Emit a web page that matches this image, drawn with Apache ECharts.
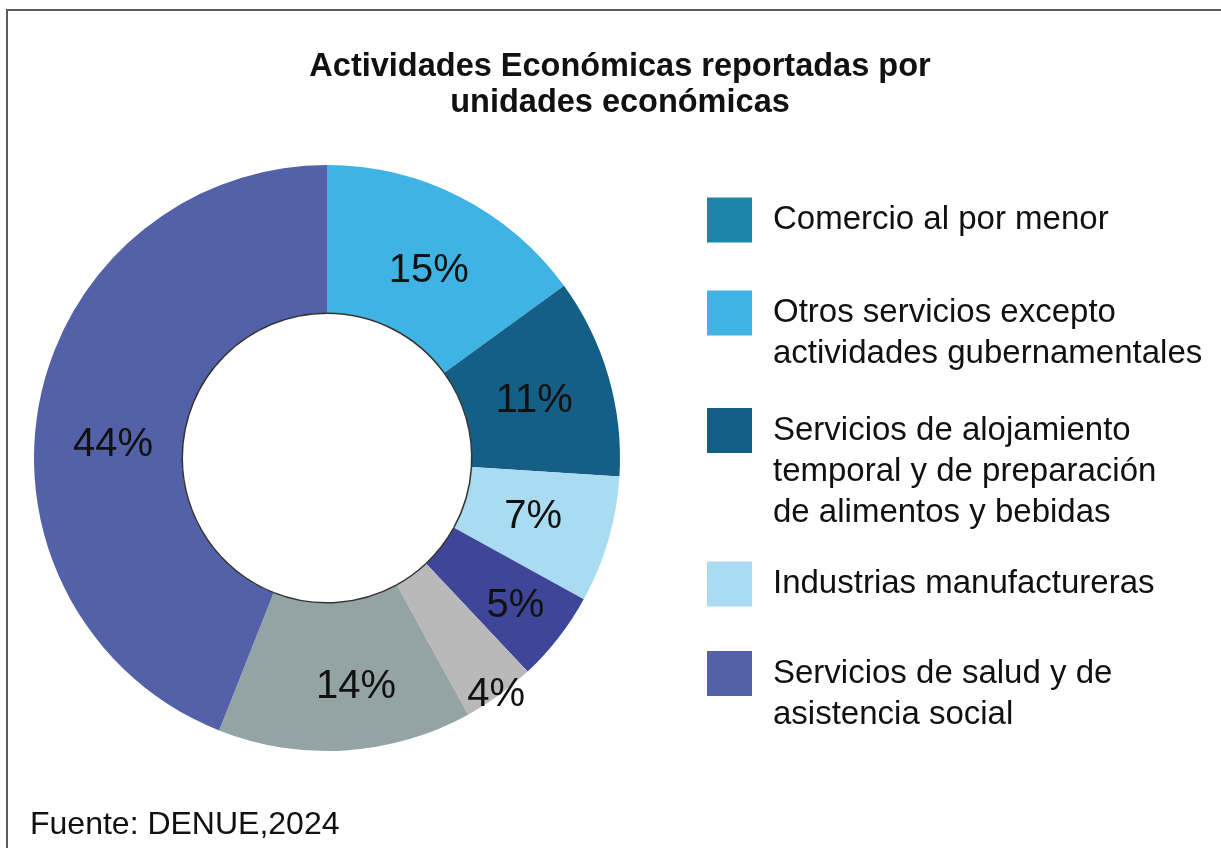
<!DOCTYPE html>
<html>
<head>
<meta charset="utf-8">
<script src="https://cdn.jsdelivr.net/npm/echarts@6/dist/echarts.min.js"></script>
<style>
  html, body { margin: 0; padding: 0; background: #fff; }
  #chart { width: 1221px; height: 848px; }
</style>
</head>
<body>
<div id="chart"></div>
<script>
// ── data ────────────────────────────────────────────────────────────────
const TITLE  = 'Actividades Económicas reportadas por\nunidades económicas';
const SOURCE = 'Fuente: DENUE,2024';

// slices, clockwise from 12 o'clock (Comercio has no visible slice)
const SLICE_NAMES = [
  'Comercio al por menor',
  'Otros servicios excepto actividades gubernamentales',
  'Servicios de alojamiento temporal y de preparación de alimentos y bebidas',
  'Industrias manufactureras',
  'Otra actividad 1',
  'Otra actividad 2',
  'Otra actividad 3',
  'Servicios de salud y de asistencia social',
];
const SLICE_VALUES = [0, 15, 11, 7, 5, 4, 14, 44];
const SLICE_COLORS = [
  '#1C86A8', '#3EB3E4', '#155F86', '#A9DCF1',
  '#3F4699', '#B9B9B9', '#94A3A3', '#5361A9',
];

const LEGEND_NAMES = [
  'Comercio al por menor',
  'Otros servicios excepto actividades gubernamentales',
  'Servicios de alojamiento temporal y de preparación de alimentos y bebidas',
  'Industrias manufactureras',
  'Servicios de salud y de asistencia social',
];
const LEGEND_LABELS = [
  'Comercio al por menor',
  'Otros servicios excepto\nactividades gubernamentales',
  'Servicios de alojamiento\ntemporal y de preparación\nde alimentos y bebidas',
  'Industrias manufactureras',
  'Servicios de salud y de\nasistencia social',
];

// ── layout / style ──────────────────────────────────────────────────────
const FONT   = "'Liberation Sans', Arial, Helvetica, sans-serif";
const INK    = '#111111';
const CENTER = [327, 458];
const LEGEND_ICON_CY = [220, 313, 430.5, 584, 673.5];
const LINE_H = 41;

// the 4% label sits on the outer rim, drawn by a second (transparent) ring
const RIM_LABEL_INDEX = 5;

// [dx, dy] nudges for the inside labels, by slice index
const LABEL_NUDGE = {
  1: [1, 11],
  2: [-6, 5],
  3: [-7, -3],
  4: [13, 12],
  6: [15, 7],
  7: [4, 29],
  rim: [-3, 0],
};

function nudgedLabel([dx, dy]) {
  // horizontal: asymmetric padding; vertical: an empty line above/below
  const label = { padding: [0, dx < 0 ? -2 * dx : 0, 0, dx > 0 ? 2 * dx : 0] };
  if (dy > 0) label.formatter = '\n{c}%';
  if (dy < 0) label.formatter = '{c}%\n';
  if (dy !== 0) label.lineHeight = 2 * Math.abs(dy);
  return label;
}

const labelStyle = {
  show: true,
  position: 'inside',
  formatter: '{c}%',
  fontFamily: FONT,
  fontSize: 40,
  color: INK,
};

const chart = echarts.init(document.getElementById('chart'), null, { renderer: 'canvas' });

const pieData = SLICE_NAMES.map((name, i) => {
  const item = {
    name,
    value: SLICE_VALUES[i],
    itemStyle: { color: SLICE_COLORS[i] },
  };
  if (SLICE_VALUES[i] === 0 || i === RIM_LABEL_INDEX) item.label = { show: false };
  else if (LABEL_NUDGE[i]) item.label = nudgedLabel(LABEL_NUDGE[i]);
  return item;
});

const rimData = SLICE_VALUES.map((value, i) => ({
  value,
  itemStyle: { color: 'rgba(0,0,0,0)' },
  label: i === RIM_LABEL_INDEX ? nudgedLabel(LABEL_NUDGE.rim) : { show: false },
}));

// one legend block per entry; empty leading lines put the first text line
// level with the swatch
const legends = LEGEND_NAMES.map((name, i) => {
  const lines = LEGEND_LABELS[i].split('\n').length;
  const text = '\n'.repeat(lines - 1) + LEGEND_LABELS[i];
  const half = Math.max(22.5, ((2 * lines - 1) * LINE_H) / 2);
  return {
    orient: 'vertical',
    left: 707,
    top: LEGEND_ICON_CY[i] - half,
    padding: 0,
    itemWidth: 45,
    itemHeight: 45,
    icon: 'rect',
    selectedMode: false,
    data: [name],
    formatter: () => text,
    textStyle: {
      fontFamily: FONT, fontSize: 33, lineHeight: LINE_H, color: INK,
      padding: [0, 0, 0, 16],
    },
  };
});

chart.setOption({
  backgroundColor: '#ffffff',
  animation: false,
  title: [
    {
      text: TITLE,
      left: 620,
      top: 49,
      padding: 0,
      textAlign: 'center',
      textStyle: { fontFamily: FONT, fontSize: 32.5, fontWeight: 'bold', lineHeight: 36, color: INK },
    },
    {
      text: SOURCE,
      left: 30,
      top: 805,
      padding: 0,
      textStyle: { fontFamily: FONT, fontSize: 32, fontWeight: 'normal', lineHeight: 40, color: INK },
    },
  ],
  legend: legends,
  graphic: [
    {
      type: 'rect',
      silent: true,
      shape: { x: 7, y: 10, width: 1400, height: 1000 },
      style: { fill: null, stroke: '#5a5a5a', lineWidth: 2 },
    },
  ],
  series: [
    {
      type: 'pie',
      center: CENTER,
      radius: [145, 293],
      startAngle: 90,
      clockwise: true,
      silent: true,
      avoidLabelOverlap: false,
      emphasis: { disabled: true },
      label: labelStyle,
      labelLine: { show: false },
      itemStyle: { borderWidth: 0 },
      data: pieData,
    },
    {
      // thin outline round the hole
      type: 'pie',
      center: CENTER,
      radius: [144, 145.5],
      startAngle: 90,
      silent: true,
      emphasis: { disabled: true },
      label: { show: false },
      labelLine: { show: false },
      itemStyle: { color: '#333333', borderWidth: 0 },
      data: SLICE_VALUES.filter((v) => v > 0),
    },
    {
      // transparent ring whose mid-radius is the outer rim: carries the 4% label
      type: 'pie',
      center: CENTER,
      radius: [276, 304],
      startAngle: 90,
      silent: true,
      avoidLabelOverlap: false,
      emphasis: { disabled: true },
      label: labelStyle,
      labelLine: { show: false },
      data: rimData,
    },
  ],
});
</script>
</body>
</html>
